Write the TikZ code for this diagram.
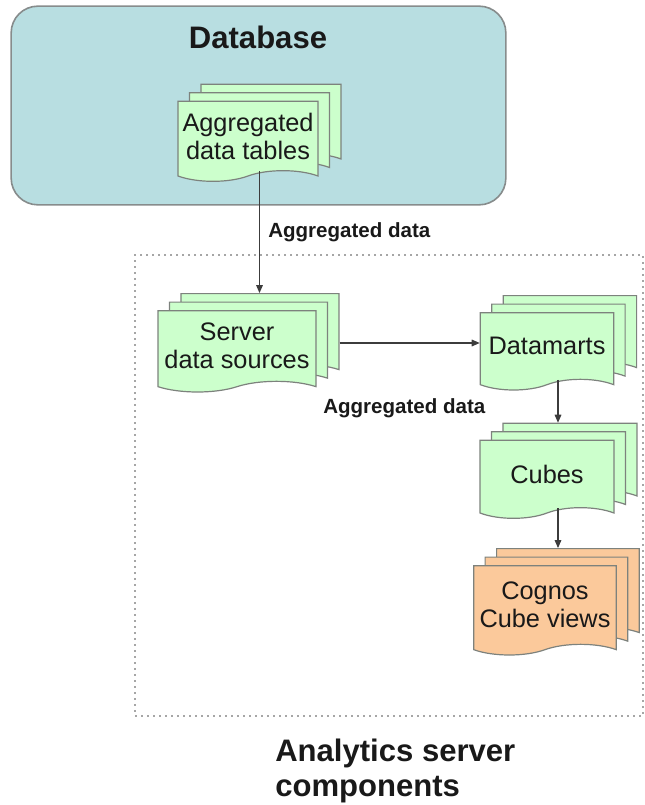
\documentclass[tikz,border=0pt]{standalone}
\usepackage{fontspec}
\setmainfont{Liberation Sans}
\usetikzlibrary{positioning, arrows.meta, shapes.symbols, shadows, calc}
\definecolor{dbteal}{RGB}{184,222,225}
\definecolor{dbedge}{RGB}{135,140,140}
\definecolor{docgrn}{RGB}{204,255,204}
\definecolor{docorg}{RGB}{251,201,155}
\definecolor{docedge}{RGB}{125,130,125}
\definecolor{arrgray}{RGB}{60,60,60}
\definecolor{txtdark}{RGB}{25,25,25}
\tikzset{
  dbbox/.style    = {draw=dbedge, fill=dbteal, line width=1.2pt,
                     rounded corners=20pt, minimum width=371pt,
                     minimum height=149pt},
  compbox/.style  = {draw=gray!70, line width=1.4pt,
                     dash pattern=on 1.5pt off 3pt,
                     minimum width=381pt, minimum height=345.75pt},
  docstack/.style = {tape, tape bend top=none, tape bend bottom=in and out,
                     tape bend height=8pt, draw=docedge, fill=docgrn,
                     line width=0.9pt, align=center, inner sep=1pt,
                     text=txtdark, font=\fontsize{19}{21}\selectfont,
                     double copy shadow={shadow xshift=8.6pt,
                                         shadow yshift=6.4pt}},
  titletxt/.style = {font=\fontsize{23.3}{26.3}\selectfont\bfseries,
                     text=txtdark, inner sep=0pt, align=left},
  flowlbl/.style  = {font=\fontsize{15.4}{17}\selectfont\bfseries,
                     text=txtdark, inner sep=0pt},
  flowarr/.style  = {-{Triangle[length=6pt,width=5pt]}, line width=0.8pt,
                     arrgray},
}
\begin{document}
\begin{tikzpicture}[x=0.75pt, y=-0.75pt]
  \useasboundingbox (0,0) rectangle (644,805);
  % analytics server frame and database
  \node[compbox] (comp) at (389,485.5) {};
  \node[dbbox] (db) at (258.5,105.5) {};
  \node[titletxt, anchor=base] (dbtitle) at (258,49) {Database};
  \node[titletxt, anchor=north west] (comptitle) at (275,739)
       {Analytics server\\components};
  % document stacks
  \node[docstack, minimum width=105pt, minimum height=60pt]
       (agg) at (248,136) {Aggregated\\data tables};
  \node[docstack, minimum width=118.5pt, minimum height=61pt]
       (srv) at (237,346) {Server\\data sources};
  \node[docstack, minimum width=100pt, minimum height=58pt]
       (dmart) at (547,346) {Datamarts};
  \node[docstack, minimum width=100.5pt, minimum height=58.5pt]
       (cube) at (547,474) {Cubes};
  \node[docstack, fill=docorg, minimum width=107pt, minimum height=67pt]
       (cognos) at (545,605) {Cognos\\Cube views};
  % connectors
  \draw[flowarr] ($(agg.south)+(11.5,0)$)
       -- ($(agg.south |- srv.north)+(11.5,-17)$);
  \draw[flowarr] ($(srv.east)+(23,-3)$)
       -- ($(srv.east -| dmart.west)+(0,-3)$);
  \draw[flowarr] ($(dmart.south)+(11,0)$)
       -- ($(dmart.south |- cube.north)+(11,-17)$);
  \draw[flowarr] ($(cube.south)+(11,0)$)
       -- ($(cube.south |- cognos.north)+(11,-17)$);
  \node[flowlbl, anchor=base west] (lblagg) at (268,238) {Aggregated data};
  \node[flowlbl, anchor=base west] (lblsrv) at (323,413) {Aggregated data};
\end{tikzpicture}
\end{document}
